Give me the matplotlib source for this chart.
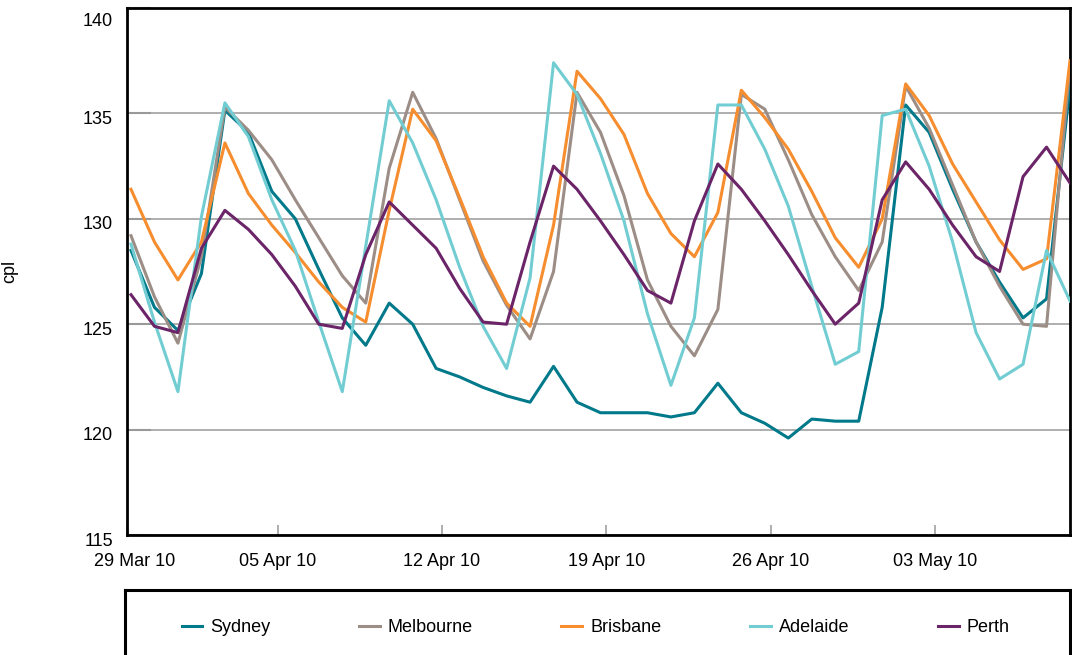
import matplotlib
matplotlib.use("Agg")
import matplotlib.pyplot as plt
from matplotlib.transforms import ScaledTranslation
import numpy as np

plt.rcParams['font.family'] = ['Liberation Sans', 'DejaVu Sans']

# daily terminal gate prices, cents per litre
sydney = [128.5, 125.8, 124.7, 127.4, 135.15, 134.1, 131.3, 130.0, 127.6, 125.3,
          124.0, 126.0, 125.0, 122.9, 122.5, 122.0, 121.6, 121.3, 123.0, 121.3,
          120.8, 120.8, 120.8, 120.6, 120.8, 122.2, 120.8, 120.3, 119.6, 120.5,
          120.4, 120.4, 125.8, 135.4, 134.1, 131.4, 128.9, 127.0, 125.3, 126.2, 136.3]
melbourne = [129.2, 126.3, 124.1, 128.2, 135.3, 134.2, 132.8, 130.9, 129.1, 127.3,
             126.0, 132.4, 136.0, 133.8, 130.9, 128.0, 125.9, 124.3, 127.5, 136.0,
             134.1, 131.1, 127.1, 124.9, 123.5, 125.7, 135.9, 135.2, 132.8, 130.2,
             128.2, 126.6, 128.9, 136.3, 134.3, 131.6, 128.9, 126.8, 125.0, 124.9, 137.3]
brisbane = [131.4, 128.9, 127.1, 128.9, 133.6, 131.2, 129.7, 128.4, 127.0, 125.8,
            125.1, 130.4, 135.2, 133.7, 131.0, 128.2, 126.0, 124.9, 129.7, 137.0,
            135.7, 134.0, 131.2, 129.3, 128.2, 130.3, 136.1, 134.8, 133.3, 131.3,
            129.1, 127.7, 130.0, 136.4, 134.9, 132.6, 130.8, 129.0, 127.6, 128.1, 137.5]
adelaide = [128.8, 125.1, 121.8, 130.1, 135.5, 133.9, 130.9, 128.5, 125.1, 121.8,
            128.7, 135.6, 133.6, 130.9, 127.7, 124.9, 122.9, 127.2, 137.4, 135.9,
            133.1, 129.9, 125.5, 122.1, 125.3, 135.4, 135.4, 133.3, 130.6, 126.8,
            123.1, 123.7, 134.9, 135.2, 132.5, 128.9, 124.6, 122.4, 123.1, 128.5, 126.1]
perth = [126.4, 124.9, 124.6, 128.6, 130.4, 129.5, 128.3, 126.8, 125.0, 124.8,
         128.3, 130.8, 129.7, 128.6, 126.7, 125.1, 125.0, 128.9, 132.5, 131.4,
         129.9, 128.3, 126.6, 126.0, 129.9, 132.6, 131.4, 129.9, 128.3, 126.6,
         125.0, 126.0, 130.9, 132.7, 131.4, 129.7, 128.2, 127.5, 132.0, 133.4, 131.7]

cities = ["Sydney", "Melbourne", "Brisbane", "Adelaide", "Perth"]
colors = ["#00798A", "#9C8E86", "#F68D2E", "#72CDD3", "#6B2468"]
tick_pos = [-0.17, 6.25, 13.25, 20.25, 27.25, 34.25]
tick_labels = ["29 Mar 10", "05 Apr 10", "12 Apr 10", "19 Apr 10", "26 Apr 10", "03 May 10"]

W, H = 1072, 655
fig = plt.figure(figsize=(W / 100, H / 100), dpi=100)
ax = fig.add_axes([127 / W, 1 - 535 / H, (1070 - 127) / W, (535 - 8) / H])

x = np.arange(len(sydney))
for name, vals, c in zip(cities, [sydney, melbourne, brisbane, adelaide, perth], colors):
    ax.plot(x, vals, color=c, lw=2.2, label=name, zorder=3)

ax.set_xlim(-0.17, 40)
ax.set_ylim(115, 140)
ax.set_yticks([115, 120, 125, 130, 135, 140])
ax.set_xticks(tick_pos)
ax.set_xticklabels(tick_labels)
ax.grid(axis='y', color='#A8A8A8', lw=1.3)
ax.set_axisbelow(True)
ax.tick_params(axis='x', direction='in', length=7, width=1.2, color='#A0A0A0',
               labelsize=13, pad=13)
ax.tick_params(axis='y', direction='in', length=17, width=1.5, color='#999999',
               labelsize=13, pad=10)
for s in ax.spines.values():
    s.set_linewidth(2)
    s.set_color('black')
ax.set_ylabel('cpl', fontsize=13)
ax.yaxis.set_label_coords(-0.1156, 0.5)

# nudge labels the way the original sits them
first = ax.get_xticklabels()[0]
first.set_transform(first.get_transform() + ScaledTranslation(0.08, 0, fig.dpi_scale_trans))
for lab in ax.get_yticklabels():
    dy = -0.12 if lab.get_text() == "140" else -0.04
    lab.set_transform(lab.get_transform() + ScaledTranslation(0, dy, fig.dpi_scale_trans))

# legend box, runs off the bottom of the figure
lax = fig.add_axes([125 / W, 1 - 700 / H, (1070 - 125) / W, (700 - 590) / H])
lax.set_xticks([])
lax.set_yticks([])
for s in lax.spines.values():
    s.set_linewidth(2.2)
    s.set_color('black')
handles, labels = ax.get_legend_handles_labels()
lax.legend(handles, labels, loc='center', bbox_to_anchor=(0.498, 0.655), ncol=5,
           frameon=False, fontsize=13, handlelength=1.15, handletextpad=0.45,
           columnspacing=4.9)

fig.savefig("out.png", dpi=100)
